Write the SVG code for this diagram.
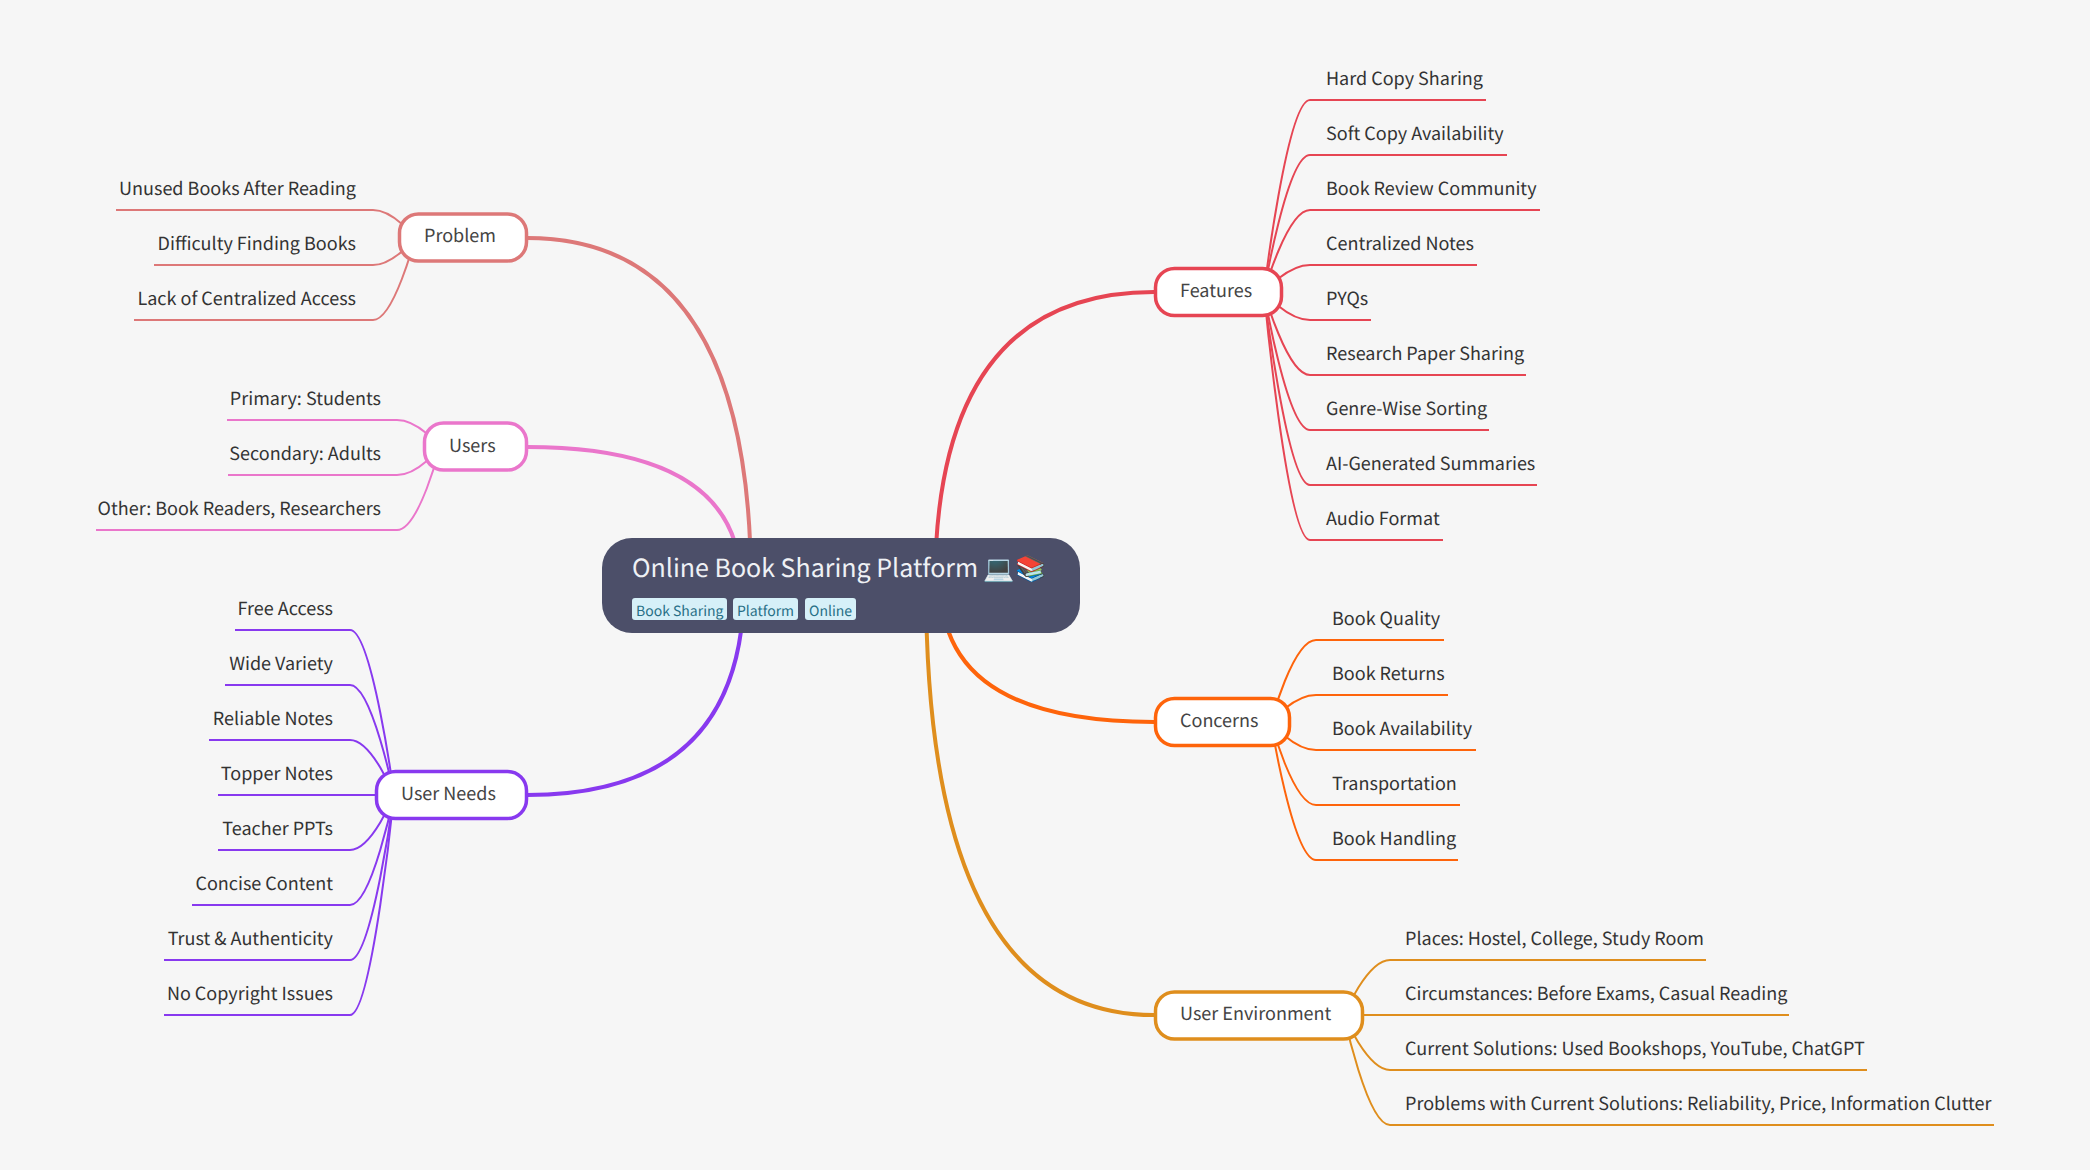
<svg xmlns="http://www.w3.org/2000/svg" width="2090" height="1170" viewBox="0 0 2090 1170">
<style>
text{font-family:"Noto Sans CJK SC","Noto Sans",sans-serif;text-rendering:geometricPrecision}
.leaf{font-size:18px;fill:#333}
.end{text-anchor:end}
.sub{font-size:18px;fill:#444}
.box{fill:#fff;stroke-width:3.5}
.main{fill:none;stroke-width:4}
.l{fill:none;stroke-width:2}
.tag{fill:#d6f0f8}
.tagt{font-size:14px;fill:#276f86}
.flamingo{stroke:#dd7878}.pink{stroke:#ea76cb}.mauve{stroke:#8839ef}.maroon{stroke:#e64553}.peach{stroke:#fe640b}.yellow{stroke:#df8e1d}
</style>
<rect width="2090" height="1170" fill="#f6f6f6"/>
<g id="connectors">
<path class="main flamingo" d="M751 585Q751 238 527 238"/>
<path class="main pink" d="M741 585Q741 447 527 447"/>
<path class="main mauve" d="M744 585Q744 795 527 795"/>
<path class="main maroon" d="M935 585Q935 292 1154 292"/>
<path class="main peach" d="M941 585Q941 722 1154 722"/>
<path class="main yellow" d="M926 585Q926 1015 1154 1015"/>
<g class="flamingo">
<path class="l" d="M415 238C415 238 394 210 373 210H116"/>
<path class="l" d="M415 238C415 238 394 265 373 265H154"/>
<path class="l" d="M415 238C415 238 394 320 373 320H134"/>
</g>
<g class="pink">
<path class="l" d="M440 447C440 447 419 420 397 420H227"/>
<path class="l" d="M440 447C440 447 419 475 397 475H228"/>
<path class="l" d="M440 447C440 447 419 530 397 530H96"/>
</g>
<g class="mauve">
<path class="l" d="M394 795C394 795 372 630 350 630H235"/>
<path class="l" d="M394 795C394 795 372 685 350 685H225"/>
<path class="l" d="M394 795C394 795 372 740 350 740H209"/>
<path class="l" d="M394 795C394 795 372 795 350 795H218"/>
<path class="l" d="M394 795C394 795 372 850 350 850H218"/>
<path class="l" d="M394 795C394 795 372 905 350 905H192"/>
<path class="l" d="M394 795C394 795 372 960 350 960H164"/>
<path class="l" d="M394 795C394 795 372 1015 350 1015H164"/>
</g>
<g class="maroon">
<path class="l" d="M1264 292C1264 292 1287 100 1310 100H1486"/>
<path class="l" d="M1264 292C1264 292 1287 155 1310 155H1507"/>
<path class="l" d="M1264 292C1264 292 1287 210 1310 210H1540"/>
<path class="l" d="M1264 292C1264 292 1287 265 1310 265H1477"/>
<path class="l" d="M1264 292C1264 292 1287 320 1310 320H1371"/>
<path class="l" d="M1264 292C1264 292 1287 375 1310 375H1526"/>
<path class="l" d="M1264 292C1264 292 1287 430 1310 430H1489"/>
<path class="l" d="M1264 292C1264 292 1287 485 1310 485H1537"/>
<path class="l" d="M1264 292C1264 292 1287 540 1310 540H1443"/>
</g>
<g class="peach">
<path class="l" d="M1271 722C1271 722 1293 640 1316 640H1444"/>
<path class="l" d="M1271 722C1271 722 1293 695 1316 695H1448"/>
<path class="l" d="M1271 722C1271 722 1293 750 1316 750H1476"/>
<path class="l" d="M1271 722C1271 722 1293 805 1316 805H1460"/>
<path class="l" d="M1271 722C1271 722 1293 860 1316 860H1458"/>
</g>
<g class="yellow">
<path class="l" d="M1344 1015C1344 1015 1367 960 1390 960H1706"/>
<path class="l" d="M1344 1015C1344 1015 1367 1015 1390 1015H1789"/>
<path class="l" d="M1344 1015C1344 1015 1367 1070 1390 1070H1867"/>
<path class="l" d="M1344 1015C1344 1015 1367 1125 1390 1125H1994"/>
</g>
</g>
<g id="root">
<rect x="602" y="538" width="478" height="95" rx="30" fill="#4c4f69"/>
<text x="632" y="577" font-size="25" fill="#eff1f5">Online Book Sharing Platform 💻📚</text>
<rect class="tag" x="632" y="598" width="95" height="22" rx="3"/><text class="tagt" x="636" y="615.500">Book Sharing</text>
<rect class="tag" x="733" y="598" width="65" height="22" rx="3"/><text class="tagt" x="737" y="615.500">Platform</text>
<rect class="tag" x="805" y="598" width="51" height="22" rx="3"/><text class="tagt" x="809" y="615.500">Online</text>
</g>
<g id="problem"><rect class="box flamingo" x="399.500" y="214" width="127" height="47" rx="19"/><text class="sub" x="424" y="242">Problem</text></g>
<g id="users"><rect class="box pink" x="424.500" y="423" width="102" height="47" rx="19"/><text class="sub" x="449" y="452">Users</text></g>
<g id="user-needs"><rect class="box mauve" x="376.500" y="771.500" width="150" height="47" rx="19"/><text class="sub" x="401" y="800">User Needs</text></g>
<g id="features"><rect class="box maroon" x="1155.500" y="268.500" width="126" height="47" rx="19"/><text class="sub" x="1180" y="297">Features</text></g>
<g id="concerns"><rect class="box peach" x="1155.500" y="698.500" width="134" height="47" rx="19"/><text class="sub" x="1180" y="727">Concerns</text></g>
<g id="user-environment"><rect class="box yellow" x="1155.500" y="992" width="207" height="47" rx="19"/><text class="sub" x="1180" y="1020">User Environment</text></g>
<g id="problem-leaves" class="leaf end">
<text x="356" y="195">Unused Books After Reading</text>
<text x="356" y="250">Difficulty Finding Books</text>
<text x="356" y="305">Lack of Centralized Access</text>
</g>
<g id="users-leaves" class="leaf end">
<text x="381" y="405">Primary: Students</text>
<text x="381" y="460">Secondary: Adults</text>
<text x="381" y="515">Other: Book Readers, Researchers</text>
</g>
<g id="needs-leaves" class="leaf end">
<text x="333" y="615">Free Access</text>
<text x="333" y="670">Wide Variety</text>
<text x="333" y="725">Reliable Notes</text>
<text x="333" y="780">Topper Notes</text>
<text x="333" y="835">Teacher PPTs</text>
<text x="333" y="890">Concise Content</text>
<text x="333" y="945">Trust &amp; Authenticity</text>
<text x="333" y="1000">No Copyright Issues</text>
</g>
<g id="features-leaves" class="leaf">
<text x="1326" y="85">Hard Copy Sharing</text>
<text x="1326" y="140">Soft Copy Availability</text>
<text x="1326" y="195">Book Review Community</text>
<text x="1326" y="250">Centralized Notes</text>
<text x="1326" y="305">PYQs</text>
<text x="1326" y="360">Research Paper Sharing</text>
<text x="1326" y="415">Genre-Wise Sorting</text>
<text x="1326" y="470">AI-Generated Summaries</text>
<text x="1326" y="525">Audio Format</text>
</g>
<g id="concerns-leaves" class="leaf">
<text x="1332" y="625">Book Quality</text>
<text x="1332" y="680">Book Returns</text>
<text x="1332" y="735">Book Availability</text>
<text x="1332" y="790">Transportation</text>
<text x="1332" y="845">Book Handling</text>
</g>
<g id="environment-leaves" class="leaf">
<text x="1405" y="945">Places: Hostel, College, Study Room</text>
<text x="1405" y="1000">Circumstances: Before Exams, Casual Reading</text>
<text x="1405" y="1055">Current Solutions: Used Bookshops, YouTube, ChatGPT</text>
<text x="1405" y="1110">Problems with Current Solutions: Reliability, Price, Information Clutter</text>
</g>
</svg>
